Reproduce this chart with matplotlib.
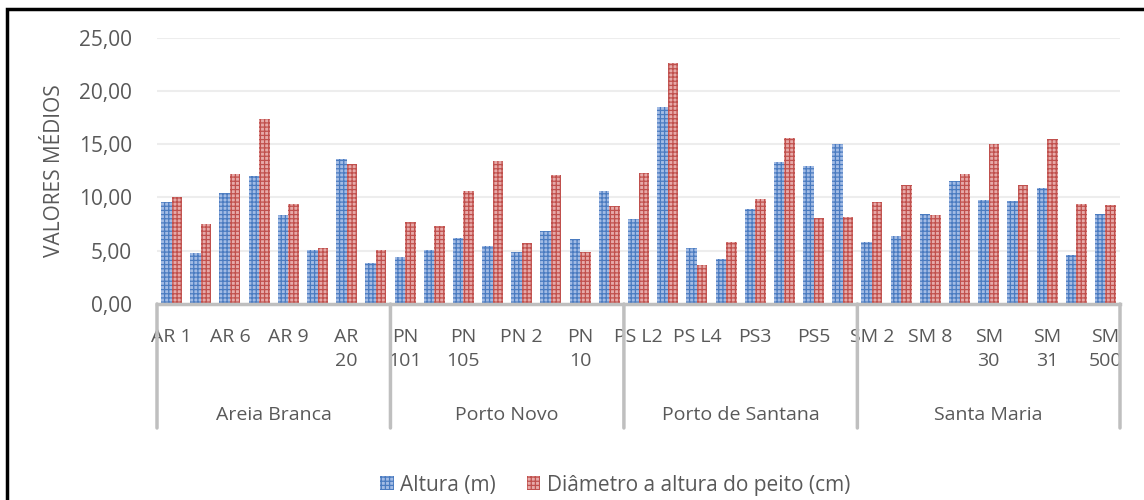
import matplotlib.pyplot as plt
import numpy as np
from matplotlib.patches import Patch, Rectangle


# rótulos visíveis do eixo (o Excel mostra só um a cada dois)
site_labels = ["AR 1", "", "AR 6", "", "AR 9", "", "AR\n20", "",
               "PN\n101", "", "PN\n105", "", "PN 2", "", "PN\n10", "",
               "PS L2", "", "PS L4", "", "PS3", "", "PS5", "",
               "SM 2", "", "SM 8", "", "SM\n30", "", "SM\n31", "", "SM\n500"]
groups = ["Areia Branca", "Porto Novo", "Porto de Santana", "Santa Maria"]
group_sizes = [8, 8, 8, 9]

altura = [9.58, 4.76, 10.42, 12.02, 8.33, 5.07, 13.58, 3.85,
          4.38, 5.04, 6.20, 5.45, 4.88, 6.82, 6.07, 10.58,
          8.01, 18.50, 5.23, 4.19, 8.92, 13.36, 12.96, 15.02,
          5.82, 6.38, 8.42, 11.55, 9.77, 9.67, 10.89, 4.60, 8.42]
dap = [10.05, 7.48, 12.18, 17.34, 9.39, 5.23, 13.15, 5.07,
       7.70, 7.29, 10.58, 13.46, 5.70, 12.11, 4.85, 9.20,
       12.27, 22.63, 3.66, 5.79, 9.86, 15.59, 8.05, 8.14,
       9.55, 11.14, 8.36, 12.21, 15.02, 11.20, 15.49, 9.36, 9.27]

TEXT = "#595959"
BLUE_FACE, BLUE_LINE = "#A3BCE5", "#4A7BC0"
RED_FACE, RED_LINE = "#E7AAA9", "#C0504D"

plt.rcParams["font.family"] = ["Open Sans", "DejaVu Sans"]
plt.rcParams["hatch.linewidth"] = 0.9


def main():
    fig = plt.figure(figsize=(11.44, 5.0), dpi=100)
    ax = fig.add_axes([157 / 1144, 1 - 304 / 500, (1120 - 157) / 1144, (304 - 37.7) / 500])

    x = np.arange(len(altura))
    w = 0.36
    ax.bar(x - w / 2, altura, w, facecolor=BLUE_FACE, edgecolor=BLUE_LINE,
           hatch="++++", linewidth=0, zorder=2)
    ax.bar(x + w / 2, dap, w, facecolor=RED_FACE, edgecolor=RED_LINE,
           hatch="++++", linewidth=0, zorder=2)

    ax.set_xlim(-0.5, len(altura) - 0.5)
    ax.set_ylim(0, 25)
    ax.set_yticks(np.arange(0, 26, 5))
    ax.set_yticklabels([f"{v:.2f}".replace(".", ",") for v in np.arange(0, 26, 5)],
                       fontsize=15, color=TEXT)
    ax.tick_params(axis="y", length=0, pad=18)
    ax.yaxis.grid(True, color="#EDEDED", linewidth=1.5, zorder=0)
    ax.set_axisbelow(True)
    ax.set_xticks([])
    for side in ["top", "right", "left"]:
        ax.spines[side].set_visible(False)
    ax.spines["bottom"].set_color("#BFBFBF")
    ax.spines["bottom"].set_linewidth(2.5)
    ax.spines["bottom"].set_zorder(3)

    fig.text(55 / 1144, 1 - 171 / 500, "VALORES MÉDIOS", rotation=90,
             ha="center", va="center", fontsize=15, color=TEXT)

    # rótulos das parcelas
    for i, lab in enumerate(site_labels):
        if lab:
            ax.annotate(lab, xy=(i, 0), xycoords=("data", "axes fraction"),
                        xytext=(0, -17), textcoords="offset points",
                        ha="center", va="top", fontsize=14, color=TEXT,
                        linespacing=1.45, annotation_clip=False)

    # nível dos locais e separadores
    start = 0
    bounds = [-0.5]
    for name, n in zip(groups, group_sizes):
        center = start + (n - 1) / 2
        ax.annotate(name, xy=(center, 0), xycoords=("data", "axes fraction"),
                    xytext=(0, -80), textcoords="offset points",
                    ha="center", va="center", fontsize=14, color=TEXT,
                    annotation_clip=False)
        start += n
        bounds.append(start - 0.5)
    for b in bounds:
        ax.annotate("", xy=(b, 0), xycoords=("data", "axes fraction"),
                    xytext=(b, -124 / 266.3), textcoords=("data", "axes fraction"),
                    arrowprops=dict(arrowstyle="-", color="#BFBFBF", lw=2.5,
                                    shrinkA=0, shrinkB=0),
                    annotation_clip=False)

    handles = [Patch(facecolor=BLUE_FACE, edgecolor=BLUE_LINE, hatch="++++", linewidth=0,
                     label="Altura (m)"),
               Patch(facecolor=RED_FACE, edgecolor=RED_LINE, hatch="++++", linewidth=0,
                     label="Diâmetro a altura do peito (cm)")]
    fig.legend(handles=handles, loc="center", bbox_to_anchor=(615 / 1144, 1 - 485 / 500),
               ncol=2, frameon=False, fontsize=15, labelcolor=TEXT,
               handlelength=0.65, handleheight=0.65, handletextpad=0.3, columnspacing=1.5)

    # moldura preta (cortada à direita e embaixo)
    fig.patches.append(Rectangle((7 / 1144, -0.1), 1.2, 1.1 - 9 / 500,
                                 transform=fig.transFigure, fill=False,
                                 edgecolor="black", linewidth=2.5))

    fig.savefig("out.png", dpi=100)
    plt.close(fig)


if __name__ == "__main__":
    main()
